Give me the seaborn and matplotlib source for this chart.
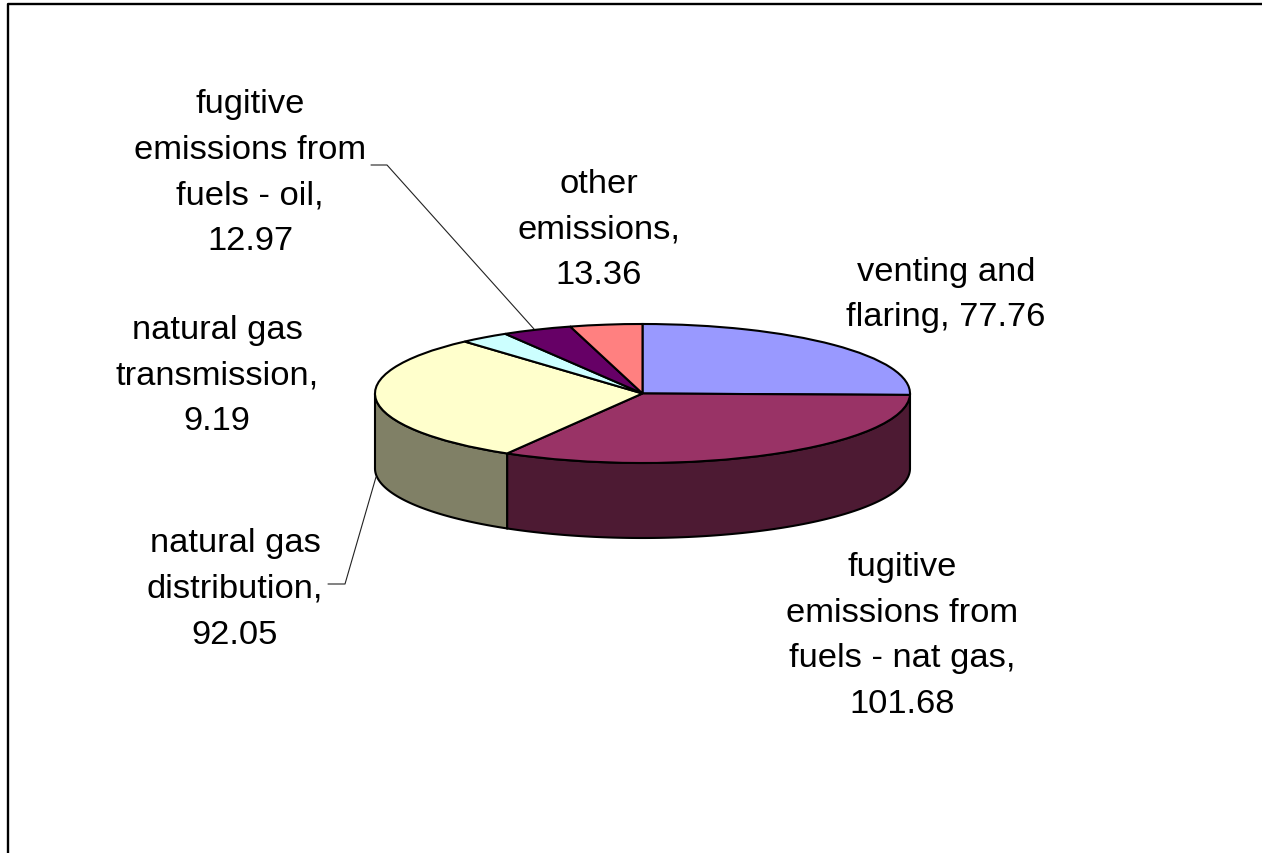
import numpy as np
import seaborn as sns
import matplotlib.pyplot as plt
from matplotlib.lines import Line2D

labels = ['venting and\nflaring, 77.76',
          'fugitive\nemissions from\nfuels - nat gas,\n101.68',
          'natural gas\ndistribution,\n92.05',
          'natural gas\ntransmission,\n9.19',
          'fugitive\nemissions from\nfuels - oil,\n12.97',
          'other\nemissions,\n13.36']
values = [77.76, 101.68, 92.05, 9.19, 12.97, 13.36]
colors = ['#9999FF', '#993366', '#FFFFCC', '#CCFFFF', '#660066', '#FF8080']

W, H = 1262, 854
CX, CY, RX, RY, DEPTH = 642.5, 394.5, 267.5, 69.5, 75

sns.set_theme(style='white')
plt.rcParams['font.family'] = ['Liberation Sans', 'DejaVu Sans']

palette = sns.color_palette(colors)
fig = plt.figure(figsize=(W / 100, H / 100), dpi=100, facecolor='white')
ax = fig.add_axes([0, 0, 1, 1])

# pie() does the top face, squashing the axes turns the circle into the ellipse
ax.pie(values, colors=palette, startangle=90, counterclock=False, radius=1,
       wedgeprops={'edgecolor': 'black', 'linewidth': 1.5})
ax.set_aspect('auto')
ax.set_xlim(-CX / RX, (W - CX) / RX)
ax.set_ylim((CY - H) / RY, CY / RY)
ax.axis('off')

# side wall, only the part of each slice on the front half
d = DEPTH / RY
ends = np.cumsum(values) / np.sum(values) * 360
starts = ends - np.array(values) / np.sum(values) * 360
for a, b, c in zip(starts, ends, palette):
    a, b = max(a, 90), min(b, 270)
    if b <= a:
        continue
    t = np.radians(np.linspace(a, b, 120))
    xs = np.sin(t)
    ys = np.cos(t)
    ax.fill(np.r_[xs, xs[::-1]], np.r_[ys, ys[::-1] - d],
            facecolor=tuple(v / 2 for v in c),
            edgecolor='black', linewidth=1.5, zorder=0.5)


def fx(x):
    return x / W


def fy(y):
    return 1 - y / H


# label centres in pixels of the picture
label_pos = [(946, 295), (902, 636), (235, 589.5), (217, 376), (250, 173), (599, 230)]
for txt, (x, y) in zip(labels, label_pos):
    fig.text(fx(x), fy(y), txt, ha='center', va='center', fontsize=24.8,
             linespacing=1.61, color='black')

# leader lines
for xs, ys in [((371, 387, 534), (166, 166, 330)), ((328, 345, 376), (585, 585, 478))]:
    fig.add_artist(Line2D([fx(x) for x in xs], [fy(y) for y in ys], color='#222222',
                          linewidth=0.8, transform=fig.transFigure))

# chart frame, cut off at the right and bottom of the picture
fig.add_artist(Line2D([fx(W), fx(8), fx(8)], [fy(5), fy(5), fy(H)], color='black',
                      linewidth=1.7, transform=fig.transFigure))

fig.savefig('out.png', dpi=100, facecolor='white')
